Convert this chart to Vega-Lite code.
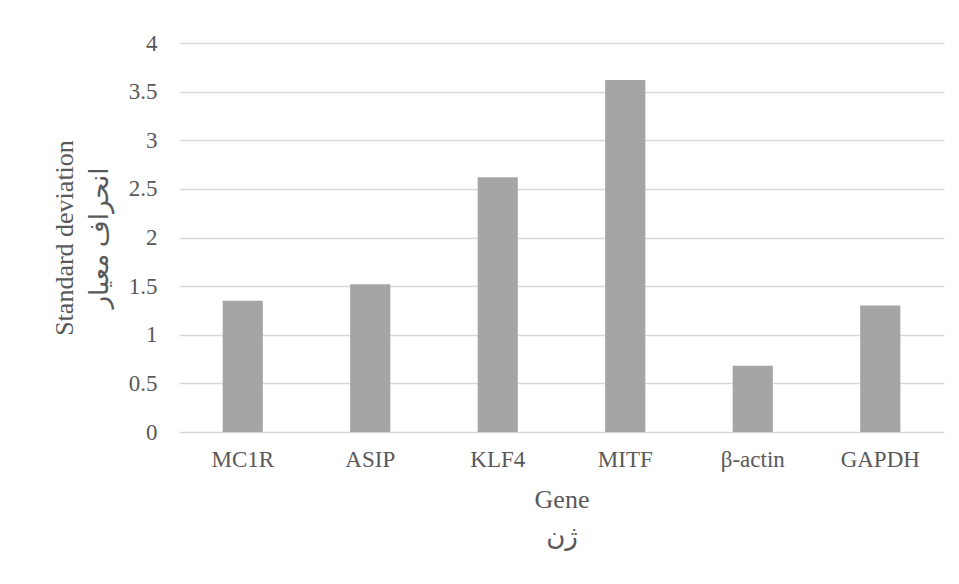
{
  "$schema": "https://vega.github.io/schema/vega-lite/v6.json",
  "width": 765,
  "height": 389,
  "autosize": {"type": "none"},
  "padding": {"left": 179, "top": 43, "right": 15, "bottom": 152},
  "background": "white",
  "config": {
    "view": {"stroke": null},
    "font": "Liberation Serif, DejaVu Sans",
    "axis": {
      "labelFont": "Liberation Serif, DejaVu Sans",
      "titleFont": "Liberation Serif, DejaVu Sans",
      "labelColor": "#595959",
      "titleColor": "#595959",
      "labelFontSize": 23,
      "titleFontSize": 26,
      "titleFontWeight": "normal"
    }
  },
  "data": {
    "values": [
      {"gene": "MC1R", "sd": 1.35},
      {"gene": "ASIP", "sd": 1.52},
      {"gene": "KLF4", "sd": 2.62},
      {"gene": "MITF", "sd": 3.62},
      {"gene": "β-actin", "sd": 0.68},
      {"gene": "GAPDH", "sd": 1.30}
    ]
  },
  "mark": {"type": "bar", "color": "#a5a5a5", "width": {"band": 0.315}},
  "encoding": {
    "x": {
      "field": "gene",
      "type": "nominal",
      "sort": null,
      "scale": {"paddingInner": 0, "paddingOuter": 0},
      "axis": {
        "title": ["Gene", "ژن"],
        "labelAngle": 0,
        "domain": false,
        "ticks": false,
        "labelPadding": 16,
        "titleBaseline": "alphabetic",
        "titleY": 75,
        "titleLineHeight": 37
      }
    },
    "y": {
      "field": "sd",
      "type": "quantitative",
      "scale": {"domain": [0, 4]},
      "axis": {
        "title": ["Standard deviation", "انحراف معیار"],
        "values": [0, 0.5, 1, 1.5, 2, 2.5, 3, 3.5, 4],
        "format": "~g",
        "domain": false,
        "ticks": false,
        "labelPadding": 22,
        "gridColor": "#d9d9d9",
        "gridWidth": 1.5,
        "titleBaseline": "alphabetic",
        "titleX": -107,
        "titleLineHeight": 35
      }
    }
  }
}
